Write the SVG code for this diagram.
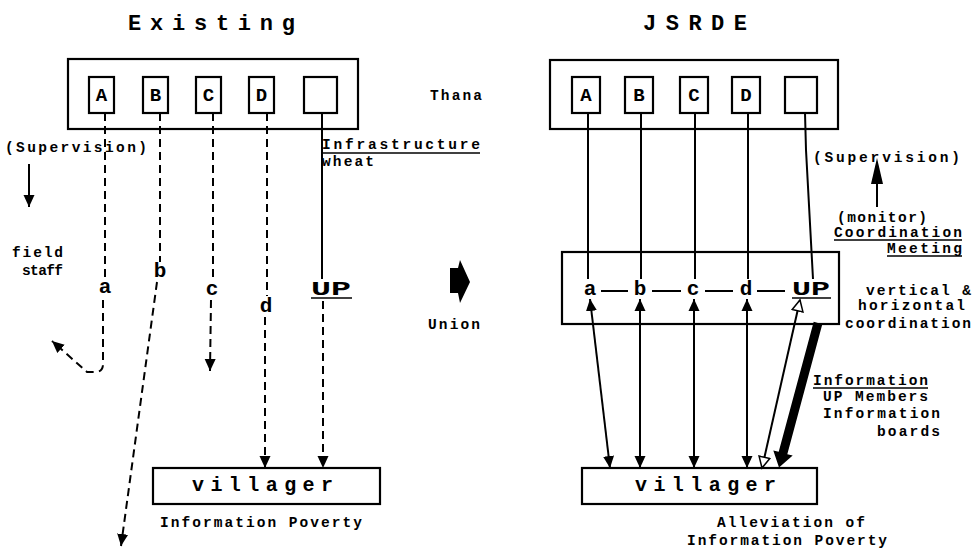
<svg xmlns="http://www.w3.org/2000/svg" width="973" height="548" viewBox="0 0 973 548">
<style>
  .box{fill:#fff;stroke:#000;stroke-width:2.2}
  .ln{fill:none;stroke:#000;stroke-width:2}
  .dash{fill:none;stroke:#000;stroke-width:2;stroke-dasharray:8 5}
  .t{font-family:"Liberation Mono","DejaVu Sans Mono",monospace;font-weight:bold;font-size:14.5px;fill:#000}
  .ttl{font-family:"Liberation Mono","DejaVu Sans Mono",monospace;font-weight:bold;font-size:22px;fill:#000}
  .cap{font-family:"Liberation Mono","DejaVu Sans Mono",monospace;font-weight:bold;font-size:19px;fill:#000;text-anchor:middle}
  .lc{font-family:"Liberation Mono","DejaVu Sans Mono",monospace;font-weight:bold;font-size:21px;fill:#000;text-anchor:middle}
  .vil{font-family:"Liberation Mono","DejaVu Sans Mono",monospace;font-weight:bold;font-size:20px;fill:#000}
  .ul{stroke:#000;stroke-width:1.5}
</style>
<defs>
  <marker id="ah" markerUnits="userSpaceOnUse" markerWidth="12" markerHeight="12" viewBox="0 0 12 12" refX="12" refY="6" orient="auto-start-reverse">
    <path d="M0,0.5 L12,6 L0,11.5 z" fill="#000"/>
  </marker>
  <marker id="hh" markerUnits="userSpaceOnUse" markerWidth="14" markerHeight="14" viewBox="0 0 14 14" refX="12" refY="7" orient="auto-start-reverse">
    <path d="M1,1.5 L12,7 L1,12.5 z" fill="#fff" stroke="#000" stroke-width="1.5"/>
  </marker>
</defs>

<!-- titles -->
<text class="ttl" x="128" y="30" textLength="167" lengthAdjust="spacing">Existing</text>
<text class="ttl" x="643" y="30" textLength="104" lengthAdjust="spacing">JSRDE</text>

<!-- LEFT: Thana -->
<g id="thana-left">
  <rect class="box" x="68" y="59" width="290" height="70"/>
  <rect class="box" x="89" y="77" width="25" height="36"/>
  <rect class="box" x="143" y="77" width="25" height="36"/>
  <rect class="box" x="196" y="77" width="25" height="36"/>
  <rect class="box" x="249" y="77" width="25" height="36"/>
  <rect class="box" x="304" y="77" width="33" height="36"/>
  <text class="cap" x="101.5" y="101">A</text>
  <text class="cap" x="155.5" y="101">B</text>
  <text class="cap" x="208.5" y="101">C</text>
  <text class="cap" x="261.5" y="101">D</text>
</g>
<text class="t" x="430" y="100" textLength="52" lengthAdjust="spacing">Thana</text>

<!-- LEFT field staff labels -->
<g id="left-field">
  <text class="lc" x="105" y="293">a</text>
  <text class="lc" x="160" y="277">b</text>
  <text class="lc" x="212" y="295">c</text>
  <text class="lc" x="266" y="312">d</text>
  <text class="lc" x="331" y="295" textLength="40" lengthAdjust="spacingAndGlyphs">UP</text>
  <line class="ul" x1="311" y1="298" x2="352" y2="298"/>
</g>

<!-- LEFT villager -->
<g id="villager-left">
  <rect class="box" x="153" y="468" width="227" height="36"/>
  <text class="vil" x="192" y="491" textLength="141" lengthAdjust="spacing">villager</text>
</g>
<text class="t" x="160" y="527" textLength="202" lengthAdjust="spacing">Information Poverty</text>

<!-- LEFT labels -->
<text class="t" x="5" y="152" textLength="142" lengthAdjust="spacing">(Supervision)</text>
<text class="t" x="322" y="149" textLength="158" lengthAdjust="spacing">Infrastructure</text>
<line class="ul" x1="322" y1="153" x2="480" y2="153"/>
<text class="t" x="322" y="166" textLength="52" lengthAdjust="spacing">wheat</text>
<text class="t" x="12" y="257" textLength="51" lengthAdjust="spacing">field</text>
<text class="t" x="22" y="275" textLength="41" lengthAdjust="spacing">staff</text>

<!-- centre -->
<polygon points="450,268 458,268 460,260 470,282 460,303 458,293 450,293" fill="#000"/>
<text class="t" x="428" y="329" textLength="52" lengthAdjust="spacing">Union</text>

<!-- RIGHT: Thana -->
<g id="thana-right">
  <rect class="box" x="550" y="60" width="288" height="69"/>
  <rect class="box" x="572" y="77" width="28" height="36"/>
  <rect class="box" x="625" y="77" width="28" height="36"/>
  <rect class="box" x="680" y="77" width="28" height="36"/>
  <rect class="box" x="732" y="77" width="28" height="36"/>
  <rect class="box" x="785" y="77" width="32" height="36"/>
  <text class="cap" x="586" y="101">A</text>
  <text class="cap" x="639" y="101">B</text>
  <text class="cap" x="694" y="101">C</text>
  <text class="cap" x="746" y="101">D</text>
</g>

<!-- RIGHT union coordination box -->
<g id="union-right">
  <rect class="box" x="562" y="252" width="277" height="72" stroke-width="2.6"/>
  <text class="lc" x="590" y="295">a</text>
  <text class="lc" x="640" y="295">b</text>
  <text class="lc" x="693" y="295">c</text>
  <text class="lc" x="746" y="295">d</text>
  <text class="lc" x="811" y="295" textLength="38" lengthAdjust="spacingAndGlyphs">UP</text>
  <line class="ul" x1="792" y1="298" x2="831" y2="298"/>
  <line class="ln" x1="601" y1="291" x2="628" y2="291"/>
  <line class="ln" x1="652" y1="291" x2="681" y2="291"/>
  <line class="ln" x1="705" y1="291" x2="733" y2="291"/>
  <line class="ln" x1="757" y1="291" x2="785" y2="291"/>
</g>

<!-- RIGHT villager -->
<g id="villager-right">
  <rect class="box" x="582" y="468" width="235" height="36"/>
  <text class="vil" x="635" y="491" textLength="141" lengthAdjust="spacing">villager</text>
</g>

<!-- RIGHT labels -->
<text class="t" x="813" y="162" textLength="147" lengthAdjust="spacing">(Supervision)</text>
<text class="t" x="837" y="222" textLength="90" lengthAdjust="spacing">(monitor)</text>
<text class="t" x="834" y="237" textLength="128" lengthAdjust="spacing">Coordination</text>
<line class="ul" x1="834" y1="240" x2="962" y2="240"/>
<text class="t" x="887" y="253" textLength="75" lengthAdjust="spacing">Meeting</text>
<line class="ul" x1="887" y1="256" x2="962" y2="256"/>
<text class="t" x="866" y="295" textLength="105" lengthAdjust="spacing">vertical &amp;</text>
<text class="t" x="858" y="310" textLength="107" lengthAdjust="spacing">horizontal</text>
<text class="t" x="845" y="328" textLength="126" lengthAdjust="spacing">coordination</text>
<text class="t" x="813" y="385" textLength="115" lengthAdjust="spacing">Information</text>
<line class="ul" x1="813" y1="388" x2="928" y2="388"/>
<text class="t" x="823" y="401" textLength="105" lengthAdjust="spacing">UP Members</text>
<text class="t" x="823" y="418" textLength="117" lengthAdjust="spacing">Information</text>
<text class="t" x="877" y="436" textLength="63" lengthAdjust="spacing">boards</text>
<text class="t" x="717" y="527" textLength="148" lengthAdjust="spacing">Alleviation of</text>
<text class="t" x="687" y="545" textLength="200" lengthAdjust="spacing">Information Poverty</text>

<!-- connectors -->
<g id="connectors">
  <!-- left -->
  <line class="ln" x1="29" y1="164" x2="29" y2="207" marker-end="url(#ah)"/>
  <line class="dash" x1="105" y1="113" x2="105" y2="279"/>
  <path class="dash" d="M103,300 L103,364 Q103,372 95,372 L87,372 L52,341" marker-end="url(#ah)"/>
  <line class="dash" x1="160" y1="113" x2="160" y2="262"/>
  <line class="dash" x1="157" y1="282" x2="121" y2="546" marker-end="url(#ah)"/>
  <line class="dash" x1="213" y1="113" x2="213" y2="281"/>
  <line class="dash" x1="211" y1="300" x2="210" y2="371" marker-end="url(#ah)"/>
  <line class="dash" x1="267" y1="113" x2="267" y2="296"/>
  <line class="dash" x1="265" y1="317" x2="265" y2="468" marker-end="url(#ah)"/>
  <line class="ln" x1="322" y1="113" x2="322" y2="279"/>
  <line class="dash" x1="323" y1="301" x2="323" y2="468" marker-end="url(#ah)"/>
  <!-- right, top -->
  <line class="ln" x1="588" y1="113" x2="588" y2="279"/>
  <line class="ln" x1="641" y1="113" x2="641" y2="279"/>
  <line class="ln" x1="695" y1="113" x2="695" y2="279"/>
  <line class="ln" x1="748" y1="113" x2="748" y2="279"/>
  <path class="ln" d="M805,113 L806,150 L813,279" stroke-width="3"/>
  <line class="ln" x1="877" y1="207" x2="877" y2="180" stroke-width="4"/>
  <polygon points="871,184 883,184 877,158" fill="#000"/>
  <!-- right, bottom -->
  <line class="ln" x1="590" y1="299" x2="610" y2="468" marker-start="url(#ah)" marker-end="url(#ah)"/>
  <line class="ln" x1="640" y1="299" x2="640" y2="468" marker-start="url(#ah)" marker-end="url(#ah)"/>
  <line class="ln" x1="694" y1="299" x2="694" y2="468" marker-start="url(#ah)" marker-end="url(#ah)"/>
  <line class="ln" x1="747" y1="299" x2="747" y2="468" marker-start="url(#ah)" marker-end="url(#ah)"/>
  <line class="ln" x1="800" y1="300" x2="762" y2="468" stroke-width="1.5" marker-start="url(#hh)" marker-end="url(#hh)"/>
  <polygon points="813.7,321.8 822.3,324.2 787.3,454.2 792.7,455.6 779,467.5 773.3,450.4 778.7,451.8" fill="#000"/>
</g>
</svg>
